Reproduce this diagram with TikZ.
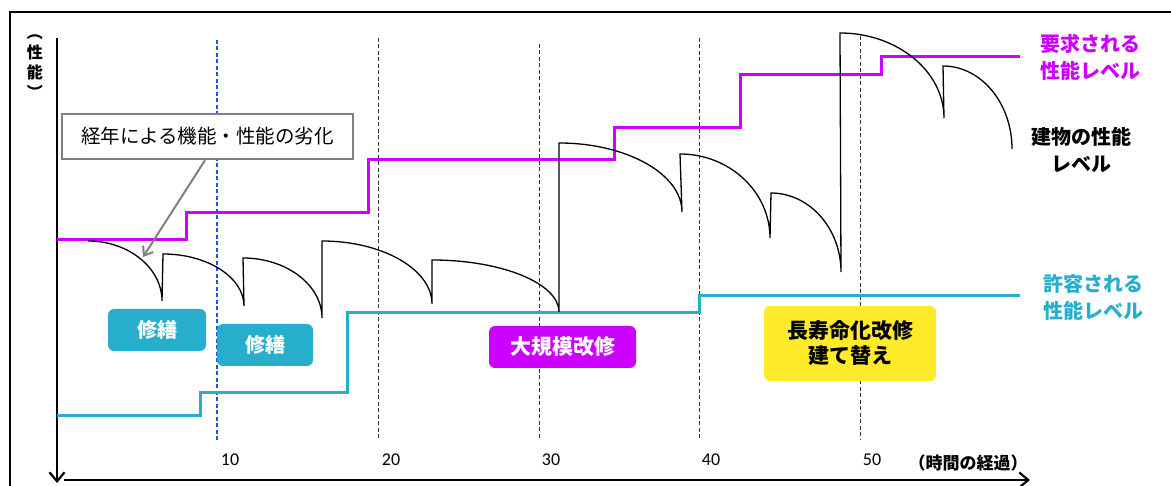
\documentclass[tikz,border=0pt]{standalone}
\usepackage{fontspec}
\newfontfamily\jp{Noto Sans CJK JP}
\newfontfamily\numf{Carlito}
\usetikzlibrary{arrows.meta}
\definecolor{reqc}{RGB}{204,0,255}
\definecolor{allowc}{RGB}{38,174,204}
\definecolor{yelc}{RGB}{255,235,42}
\definecolor{grayc}{RGB}{128,128,128}
\definecolor{bluedash}{RGB}{25,85,230}
\tikzset{
  axisline/.style={line width=2.2pt, -{Straight Barb[length=9pt,width=15pt]}},
  guide/.style={dash pattern=on 4pt off 2.5pt, line width=1pt, black!80},
  bguide/.style={dash pattern=on 4pt off 2.5pt, line width=1.1pt, bluedash},
  reqline/.style={reqc, line width=3pt},
  allowline/.style={allowc, line width=3pt},
  perf/.style={line width=1.3pt, line join=miter},
  tagbox/.style={rounded corners=6pt, minimum height=42pt, inner sep=0pt, text=white,
    font=\jp\bfseries\fontsize{20}{20}\selectfont},
  ticklbl/.style={font=\numf\fontsize{18}{18}\selectfont},
  sidelbl/.style={align=center, font=\jp\bfseries\fontsize{20}{27}\selectfont},
}
\begin{document}
\begin{tikzpicture}[x=1pt,y=-1pt]
\useasboundingbox (0,0) rectangle (1171,486);
% frame
\draw[line width=2pt] (10,486) -- (10,12) -- (1171,12);
% guides
\draw[bguide] (217,40) -- (217,440);
\draw[guide] (378,38) -- (378,440);
\draw[guide] (539,44) -- (539,440);
\draw[guide] (699,38) -- (699,440);
\draw[guide] (860,36) -- (860,440);
% tick labels
\node[ticklbl] (t10) at (230,460) {10};
\node[ticklbl] (t20) at (391,460) {20};
\node[ticklbl] (t30) at (551,460) {30};
\node[ticklbl] (t40) at (711,460) {40};
\node[ticklbl] (t50) at (872,460) {50};
\node[font=\jp\bfseries\fontsize{17}{17}\selectfont] (xlbl) at (968,463) {（時間の経過）};
% axes
\coordinate (yaxtop) at (57,38);
\coordinate (yaxbot) at (57,483);
\coordinate (xaxl) at (64,480);
\coordinate (xaxr) at (1030,480);
\draw[axisline] (yaxtop) -- (yaxbot);
\draw[axisline] (xaxl) -- (xaxr);
\node[align=center, font=\jp\bfseries\fontsize{16}{20}\selectfont] (ylbl) at (35,67) {︵\\性\\能\\︶};
% levels
\draw[allowline] (57,416) -- (200,416) -- (200,393) -- (347,393) -- (347,313) -- (699,313) -- (699,296) -- (1020,296);
\draw[reqline] (57,240) -- (186,240) -- (186,213) -- (368,213) -- (368,160) -- (614,160) -- (614,128) -- (740,128) -- (740,75) -- (881,75) -- (881,57) -- (1020,57);
% building performance
\draw[perf] (88,241) .. controls (128.7,241) and (162,268) .. (162,301)
  -- (163,254) .. controls (207.6,254) and (244,277.4) .. (244,306)
  -- (243,258) .. controls (286.5,258) and (322,285) .. (322,318)
  -- (322,241) .. controls (382.5,241) and (432,269.4) .. (432,304)
  -- (432,260) .. controls (501.9,260) and (559,283.4) .. (559,312)
  -- (559,143) .. controls (626.7,143) and (682,174) .. (682,212)
  -- (680,154) .. controls (729.5,154) and (770,191.8) .. (770,238)
  -- (771,193) .. controls (809.5,193) and (841,228.5) .. (841,272)
  -- (840,33) .. controls (897.2,33) and (944,71.3) .. (944,118)
  -- (943,66) .. controls (981,66) and (1012,103) .. (1012,149);
% callout
\node[draw=grayc, line width=2.5pt, fill=white, minimum width=291pt, minimum height=45pt, inner sep=0pt,
  font=\jp\fontsize{19.5}{19.5}\selectfont] (callout) at (207.5,136.5) {経年による機能・性能の劣化};
\coordinate (degr) at (143,257);
\draw[grayc, line width=2pt, -{Straight Barb[length=8pt,width=12pt]}] (callout.south -| 205,0) -- (degr);
% boxes
\node[tagbox, fill=allowc, minimum width=98pt] (rep1) at (157,330) {修繕};
\node[tagbox, fill=allowc, minimum width=96pt] (rep2) at (265,345) {修繕};
\node[tagbox, fill=reqc, minimum width=147pt, font=\jp\bfseries\fontsize{21}{21}\selectfont] (major) at (562.5,347) {大規模改修};
\node[tagbox, fill=yelc, text=black, minimum width=172pt, minimum height=75pt, align=center,
  font=\jp\bfseries\fontsize{21}{25}\selectfont] (life) at (850,343.5) {長寿命化改修\\建て替え};
% side labels
\node[sidelbl, text=reqc] (reqlbl) at (1090,57) {要求される\\性能レベル};
\node[sidelbl, text=black] (bldlbl) at (1081,150) {建物の性能\\レベル};
\node[sidelbl, text=allowc] (allowlbl) at (1093,297) {許容される\\性能レベル};
\end{tikzpicture}
\end{document}
